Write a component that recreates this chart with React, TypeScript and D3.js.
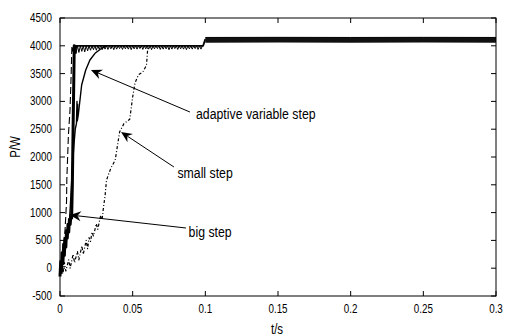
import React from 'react'
import * as d3 from 'd3'

// tick values + labels
const xTicks = [0, 0.05, 0.1, 0.15, 0.2, 0.25, 0.3]
const xTickLabels = ['0', '0.05', '0.1', '0.15', '0.2', '0.25', '0.3']
const yTicks = [-500, 0, 500, 1000, 1500, 2000, 2500, 3000, 3500, 4000, 4500]
const yTickLabels = ['-500', '0', '500', '1000', '1500', '2000', '2500', '3000', '3500', '4000', '4500']

// big step: dense oscillation wedge, fast rise, then ripples at 4000
const bigStep: [number, number][] = [
  [0, -150], [0.0005, 120], [0.001, -60], [0.0015, 280], [0.002, 80], [0.0025, 430],
  [0.003, 230], [0.0035, 540], [0.004, 380], [0.0045, 680], [0.005, 540], [0.0055, 790],
  [0.006, 650], [0.0065, 880], [0.007, 790], [0.0075, 950], [0.008, 900], [0.0085, 1500],
  [0.009, 2500], [0.0095, 3400], [0.0098, 4000], [0.0102, 3880], [0.0108, 4000],
]
// second (long dashed) trace of the fast rise
const bigStepDash: [number, number][] = [
  [0.001, -100], [0.002, 300], [0.0035, 700], [0.0045, 1200], [0.0047, 1600],
  [0.0058, 2400], [0.0069, 2850], [0.0077, 3500], [0.0082, 4000], [0.009, 3900], [0.0095, 4000],
]
// adaptive variable step: solid curve bending into 4000
const adaptiveStep: [number, number][] = [
  [0, -80], [0.003, 350], [0.005, 600], [0.0065, 850], [0.0075, 1300], [0.0085, 1800],
  [0.0095, 2200], [0.0105, 2500], [0.0113, 2600], [0.0117, 3000], [0.0114, 2620],
  [0.0121, 2950], [0.0119, 2650], [0.0126, 2760], [0.0149, 3295], [0.0177, 3565],
  [0.0206, 3745], [0.0241, 3865], [0.0287, 3955], [0.032, 4000],
]
// small step: slow zigzag climb, dash-dot
const smallStep: [number, number][] = [
  [0, 0], [0.002, -100], [0.003, 100], [0.004, -50], [0.006, 150], [0.007, 0],
  [0.009, 250], [0.01, 100], [0.012, 300], [0.013, 150], [0.015, 400], [0.016, 250],
  [0.018, 500], [0.019, 350], [0.02, 550], [0.021, 480], [0.022, 650], [0.023, 580],
  [0.025, 800], [0.026, 700], [0.028, 950], [0.029, 880], [0.0297, 1050], [0.031, 1300],
  [0.032, 1585], [0.035, 1800], [0.038, 1945], [0.041, 2450], [0.044, 2600],
  [0.048, 2680], [0.05, 3080], [0.0516, 3330], [0.054, 3480], [0.057, 3530],
  [0.0595, 3650], [0.0605, 4000],
]
// steady state at 4000 with downward ripple teeth (time, dip value)
const rippleDips: [number, number][] = [
  [0.011, 3860], [0.013, 3880], [0.015, 3900], [0.017, 3890], [0.019, 3910], [0.021, 3920],
  [0.023, 3930], [0.025, 3920], [0.027, 3940], [0.029, 3930], [0.031, 3940], [0.033, 3935],
  [0.035, 3945], [0.037, 3930], [0.039, 3940], [0.041, 3950], [0.043, 3935], [0.045, 3945],
  [0.047, 3940], [0.049, 3930], [0.051, 3945], [0.053, 3940], [0.055, 3950], [0.057, 3935],
  [0.059, 3945], [0.061, 3940], [0.063, 3930], [0.065, 3945], [0.067, 3950], [0.069, 3935],
  [0.071, 3940], [0.073, 3945], [0.075, 3930], [0.077, 3940], [0.079, 3950], [0.081, 3935],
  [0.083, 3945], [0.085, 3940], [0.087, 3930], [0.089, 3945], [0.091, 3940], [0.093, 3950],
  [0.095, 3935], [0.097, 3940],
]
const steadyLevel: [number, number][] = [[0.0098, 4000], [0.0985, 4000], [0.1, 4120]]
// oscillation band after the step change at t = 0.1
const bandUpper: [number, number][] = [[0.1, 4150], [0.15, 4152], [0.2, 4150], [0.25, 4152], [0.3, 4150]]
const bandLower: [number, number][] = [[0.1, 4055], [0.15, 4058], [0.2, 4055], [0.25, 4058], [0.3, 4055]]

// annotations: [tail, tip] in data units, label anchor
const notes = [
  { text: 'adaptive variable step', tail: [0.0894, 2809], tip: [0.0213, 3565], at: [0.0936, 2690] },
  { text: 'small step', tail: [0.0784, 1820], tip: [0.042, 2450], at: [0.0808, 1630] },
  { text: 'big step', tail: [0.0867, 723], tip: [0.0069, 957], at: [0.0885, 570] },
]

const W = 505
const H = 336
const left = 60, right = 496, top = 18, bottom = 296

const font = "'Liberation Sans', Arial, sans-serif"
const squeeze = 0.82

// narrow text: regular sans squeezed horizontally
const NText = ({ x, y, size, anchor = 'start', rotate = 0, children }:
  { x: number; y: number; size: number; anchor?: string; rotate?: number; children: React.ReactNode }) => (
  <text transform={`translate(${x},${y}) rotate(${rotate}) scale(${squeeze},1)`}
    textAnchor={anchor} fontSize={size} fontFamily={font} fill="#000">{children}</text>
)

const Arrow = ({ x1, y1, x2, y2 }: { x1: number; y1: number; x2: number; y2: number }) => {
  const dx = x2 - x1, dy = y2 - y1
  const len = Math.hypot(dx, dy)
  const ux = dx / len, uy = dy / len
  const px = -uy, py = ux
  const L = 11, hw = 5, notch = 3.5
  const bx = x2 - ux * L, by = y2 - uy * L
  const nx = x2 - ux * (L - notch), ny = y2 - uy * (L - notch)
  const pts = [[x2, y2], [bx + px * hw, by + py * hw], [nx, ny], [bx - px * hw, by - py * hw]]
  return (
    <g>
      <line x1={x1} y1={y1} x2={nx} y2={ny} stroke="#000" strokeWidth={1} />
      <polygon points={pts.map(p => p.join(',')).join(' ')} fill="#000" />
    </g>
  )
}

export default function App() {
  const x = d3.scaleLinear().domain([0, 0.3]).range([left, right])
  const y = d3.scaleLinear().domain([-500, 4500]).range([bottom, top])
  const line = d3.line<[number, number]>().x(d => x(d[0])).y(d => y(d[1]))
  const band = d3.area<number>()
    .x((_, i) => x(bandUpper[i][0]))
    .y0((_, i) => y(bandLower[i][1]))
    .y1((_, i) => y(bandUpper[i][1]))

  const dipW = (x(0.002) - x(0)) / 2

  return (
    <svg width={W} height={H} style={{ position: 'absolute', left: 0, top: 0, background: '#fff' }}>
      <rect x={0} y={0} width={W} height={H} fill="#fff" />
      <g fill="none" stroke="#000" strokeLinejoin="round">
        <path d={line(smallStep) || ''} strokeWidth={1.2} strokeDasharray="3,2,1,2" />
        <path d={line(bigStepDash) || ''} strokeWidth={1.1} strokeDasharray="7,3" />
        <path d={line(bigStep) || ''} strokeWidth={3} />
        <path d={line(adaptiveStep) || ''} strokeWidth={1.4} />
        <path d={line(steadyLevel) || ''} strokeWidth={1.8} />
        {rippleDips.map((d, i) => (
          <path key={i}
            d={`M${x(d[0]) - dipW},${y(4000)} L${x(d[0])},${y(d[1])} L${x(d[0]) + dipW},${y(4000)}`}
            strokeWidth={1} />
        ))}
      </g>
      <path d={band(bandUpper.map((_, i) => i)) || ''} fill="#111" />
      <path d={line(bandUpper) || ''} fill="none" stroke="#000" strokeWidth={1} />

      {/* frame + ticks */}
      <rect x={left} y={top} width={right - left} height={bottom - top} fill="none" stroke="#000" strokeWidth={1} />
      {xTicks.map((t, i) => (
        <g key={'x' + i}>
          <line x1={x(t)} x2={x(t)} y1={bottom} y2={bottom - 5} stroke="#000" />
          <line x1={x(t)} x2={x(t)} y1={top} y2={top + 5} stroke="#000" />
          <NText x={x(t)} y={313} size={12} anchor="middle">{xTickLabels[i]}</NText>
        </g>
      ))}
      {yTicks.map((v, i) => (
        <g key={'y' + i}>
          <line x1={left} x2={left + 5} y1={y(v)} y2={y(v)} stroke="#000" />
          <line x1={right} x2={right - 5} y1={y(v)} y2={y(v)} stroke="#000" />
          <NText x={52} y={y(v) + 4} size={12} anchor="end">{yTickLabels[i]}</NText>
        </g>
      ))}
      <NText x={277} y={334} size={14} anchor="middle">t/s</NText>
      <NText x={20} y={(top + bottom) / 2 - 10} size={14} anchor="middle" rotate={-90}>P/W</NText>

      {notes.map((n, i) => (
        <g key={'n' + i}>
          <Arrow x1={x(n.tail[0])} y1={y(n.tail[1])} x2={x(n.tip[0])} y2={y(n.tip[1])} />
          <NText x={x(n.at[0])} y={y(n.at[1])} size={15}>{n.text}</NText>
        </g>
      ))}
    </svg>
  )
}
